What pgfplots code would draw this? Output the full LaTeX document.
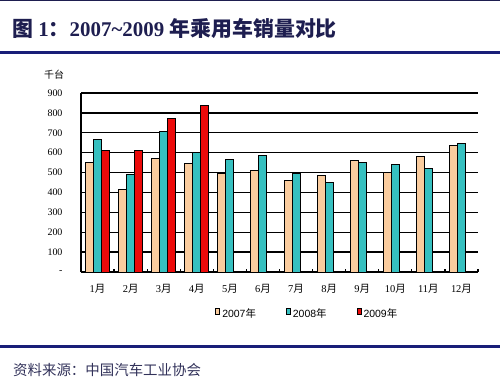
\documentclass[border=0pt]{standalone}
\usepackage{pgfplots}
\pgfplotsset{compat=1.18}
\usepackage{fontspec}
\setmainfont{Liberation Serif}
\newfontfamily\cjk{Noto Sans CJK SC}
\newfontfamily\lsans{Liberation Sans}
\newcommand{\cj}[1]{{\cjk #1}}
\definecolor{navy}{RGB}{24,30,120}
\definecolor{titlec}{RGB}{30,30,80}
\definecolor{srcc}{RGB}{50,50,90}
\definecolor{peach}{RGB}{250,204,158}
\definecolor{teal2}{RGB}{54,192,192}
\definecolor{red2}{RGB}{236,10,10}
\begin{document}
\begin{tikzpicture}[x=1bp,y=1bp]
\path[use as bounding box] (0,0) rectangle (500,384);
\fill[titlec] (0,383) rectangle (500,384);
\node[anchor=west,text=titlec,inner sep=0pt] at (12,356) {\fontsize{21}{23}\selectfont\bfseries \cj{图} 1\cj{：}2007\textasciitilde2009 \cj{年乘用车销量对比}};
\fill[navy] (0,330.5) rectangle (500,333.5);
\fill[navy] (0,36.5) rectangle (500,39.5);
\node[anchor=west,text=srcc,inner sep=0pt] at (13,14) {\fontsize{14.5}{16}\selectfont\cj{资料来源：中国汽车工业协会}};
\node[anchor=center,inner sep=0pt] at (54,309) {\fontsize{10}{11}\selectfont\cj{千台}};
\begin{axis}[
  at={(81bp,112bp)}, anchor=south west,
  scale only axis, width=397bp, height=179bp,
  xmin=0.5, xmax=12.5, ymin=0, ymax=900,
  axis x line=bottom, axis y line=left,
  axis line style={black, line width=1.2bp, -},
  ybar=0pt, bar width=8bp,
  xtick={1,...,12},
  xticklabels={1\cj{月},2\cj{月},3\cj{月},4\cj{月},5\cj{月},6\cj{月},7\cj{月},8\cj{月},9\cj{月},10\cj{月},11\cj{月},12\cj{月}},
  major x tick style={draw=none},
  minor xtick={1.5,2.5,...,12.5},
  minor x tick style={black, line width=1.2bp},
  minor tick length=3.5bp,
  xtick pos=bottom,
  tick align=inside,
  ytick={0,100,...,900},
  yticklabels={-,100,200,300,400,500,600,700,800,900},
  major y tick style={draw=none},
  ymajorgrids, grid style={black, line width=1.3bp},
  /pgf/number format/assume math mode=true,
  xticklabel style={font=\fontsize{10.5}{12}\selectfont, yshift=-9bp},
  yticklabel style={font=\fontsize{10}{11}\selectfont, xshift=-15bp},
  legend columns=3,
  legend style={draw=none, fill=none, at={(0.57,-0.235)}, anchor=center,
    font=\lsans\fontsize{10.5}{12}\selectfont,
    /tikz/every even column/.append style={column sep=28bp}},
  legend image code/.code={\draw[#1, line width=0.9bp] (0bp,0bp) rectangle (4bp,5.5bp);},
]
\addplot[fill=peach, draw=black, line width=1bp] coordinates {
(1,551) (2,417) (3,570) (4,546) (5,493) (6,510) (7,458) (8,484) (9,563) (10,498) (11,583) (12,635)};
\addplot[fill=teal2, draw=black, line width=1bp] coordinates {
(1,664) (2,488) (3,704) (4,603) (5,568) (6,588) (7,493) (8,452) (9,551) (10,541) (11,521) (12,645)};
\addplot[fill=red2, draw=black, line width=1bp] coordinates {
(1,610) (2,610) (3,773) (4,835)};
\legend{2007\cj{年},2008\cj{年},2009\cj{年}}
\end{axis}
\end{tikzpicture}
\end{document}
